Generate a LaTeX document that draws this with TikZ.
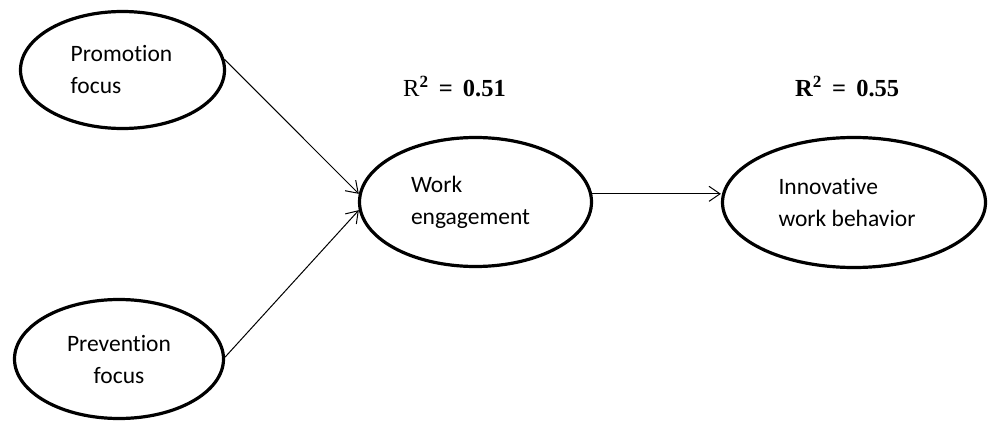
\documentclass[tikz,border=0pt]{standalone}
\usepackage{fontspec}
\setmainfont{Carlito}[Ligatures=NoCommon]
\newfontfamily\rfont{Liberation Serif}
\usetikzlibrary{shapes.geometric,arrows.meta}
\begin{document}
\begin{tikzpicture}[x=1pt,y=-1pt,
  construct/.style={ellipse,draw=black,line width=3.2pt,inner sep=0pt},
  ctext/.style={inner sep=0pt,font=\fontsize{23.5}{32}\selectfont},
  path arrow/.style={draw=black,line width=1pt,-{Straight Barb[length=11pt,width=15pt,line width=1pt]}},
  rsq/.style={font=\rfont\fontsize{24.5}{28}\selectfont,inner sep=0pt,anchor=base west}]
\useasboundingbox (0,0) rectangle (990,425);
\node[construct,minimum width=204pt,minimum height=117pt] (prom) at (122.5,70) {};
\node[construct,minimum width=209pt,minimum height=119pt] (prev) at (119,359) {};
\node[construct,minimum width=232pt,minimum height=129pt] (we) at (475.5,202) {};
\node[construct,minimum width=263pt,minimum height=130pt] (inn) at (854,202.5) {};
\node[ctext,align=left] (promT) at ([xshift=-1pt]prom.center) {Promotion\\focus};
\node[ctext,align=center] (prevT) at (prev.center) {Prevention\\focus};
\node[ctext,align=left] (weT) at ([xshift=-5pt]we.center) {Work\\engagement};
\node[ctext,align=left] (innT) at ([xshift=-7pt]inn.center) {Innovative\\work behavior};
\node[rsq] (r1) at (403,96.5) {R\textsuperscript{\textbf{2}} \,\textbf{= \,0.51}};
\node[rsq] (r2) at (795,96.5) {\textbf{R\textsuperscript{2} \,= \,0.55}};
\draw[path arrow] (prom.6) -- (we.176.6);
\draw[path arrow] (prev.1.6) -- (we.184.4);
\draw[path arrow] (we.4.4) -- (we.4.4 -| inn.west);
\end{tikzpicture}
\end{document}
